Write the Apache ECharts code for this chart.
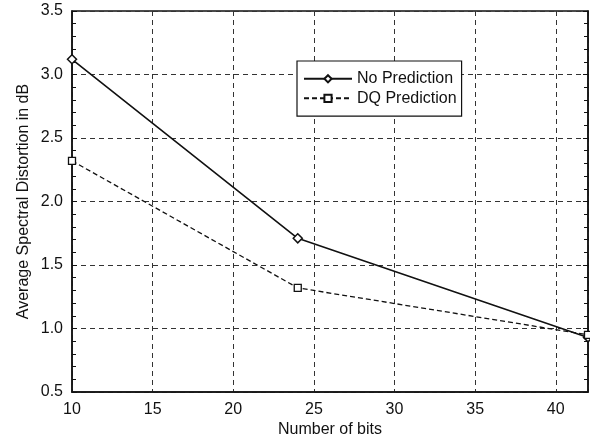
<!DOCTYPE html>
<html>
<head>
	<title>Spectral distortion</title>
	<script type="text/javascript" src="https://cdn.jsdelivr.net/npm/echarts@6/dist/echarts.min.js"></script>
	<style type="text/css">
		html, body{ margin: 0; padding: 0; background: #fff; }
		#chart{ width: 590px; height: 438px; }
	</style>
</head>
<body>
	<div id="chart"></div>
<script type="text/javascript">
	// bits on x, distortion (dB) on y
	var bits = [10, 24, 42];
	var noPrediction = [3.12, 1.71, 0.93];
	var dqPrediction = [2.32, 1.32, 0.95];
	var xTicks = [10, 15, 20, 25, 30, 35, 40];

	var font = 'Liberation Sans, Arial, Helvetica, sans-serif';
	var myChart = echarts.init(document.getElementById('chart'));

	function pairs(xs, ys){
		var out = [];
		for (var i = 0; i < xs.length; i++) out.push([xs[i], ys[i]]);
		return out;
	}

	var gridDash = { show: true, lineStyle: { color: '#333', type: [5, 4], width: 1 } };

	var option = {
		backgroundColor: '#fff',
		animation: false,
		grid: {
			left: 72, right: 2, top: 11, bottom: 46,
			containLabel: false, outerBoundsMode: 'none',
			show: true, borderColor: '#111', borderWidth: 1.5
		},
		legend: {
			orient: 'vertical',
			left: 297, top: 61,
			padding: [4, 5, 4, 6],
			itemGap: -8,
			itemWidth: 48, itemHeight: 9,
			borderColor: '#111', borderWidth: 1.2,
			backgroundColor: '#fff',
			textStyle: { fontFamily: font, fontSize: 16, lineHeight: 17, color: '#111' },
			data: ['No Prediction', 'DQ Prediction']
		},
		xAxis: {
			type: 'value',
			min: 10, max: 42, interval: 5,
			name: 'Number of bits',
			nameLocation: 'middle', nameGap: 24,
			nameMoveOverlap: false,
			nameTextStyle: { fontFamily: font, fontSize: 16, color: '#111' },
			axisLine: { lineStyle: { color: '#111', width: 1.5 } },
			axisTick: { show: false },
			axisLabel: {
				fontFamily: font, fontSize: 16, color: '#111', margin: 4,
				showMaxLabel: false,
				formatter: function(v){ return xTicks.indexOf(v) >= 0 ? String(v) : ''; }
			},
			splitLine: gridDash
		},
		yAxis: [{
			type: 'value',
			min: 0.5, max: 3.5, interval: 0.5,
			name: 'Average Spectral Distortion in dB',
			nameLocation: 'middle', nameGap: 35,
			nameMoveOverlap: false,
			nameTextStyle: { fontFamily: font, fontSize: 16, color: '#111' },
			axisLine: { show: true, lineStyle: { color: '#111', width: 1.5 } },
			axisTick: { show: true, inside: true, length: 5, lineStyle: { color: '#111' } },
			minorTick: { show: true, splitNumber: 5, length: 4, lineStyle: { color: '#111' } },
			axisLabel: {
				fontFamily: font, fontSize: 16, color: '#111', margin: 9,
				formatter: function(v){ return v.toFixed(1); }
			},
			splitLine: gridDash
		}, {
			type: 'value',
			position: 'right',
			min: 0.5, max: 3.5, interval: 0.5,
			axisLine: { show: true, lineStyle: { color: '#111', width: 1.5 } },
			axisTick: { show: true, inside: true, length: 5, lineStyle: { color: '#111' } },
			minorTick: { show: true, splitNumber: 5, length: 4, lineStyle: { color: '#111' } },
			axisLabel: { show: false },
			splitLine: { show: false }
		}],
		series: [{
			name: 'No Prediction',
			type: 'line',
			data: pairs(bits, noPrediction),
			symbol: 'diamond', symbolSize: 9,
			color: '#111',
			lineStyle: { color: '#111', width: 1.6, type: 'solid' },
			itemStyle: { color: '#fff', borderColor: '#111', borderWidth: 1.5 }
		}, {
			name: 'DQ Prediction',
			type: 'line',
			data: pairs(bits, dqPrediction),
			symbol: 'rect', symbolSize: 7,
			color: '#111',
			lineStyle: { color: '#111', width: 1.3, type: [5, 3] },
			itemStyle: { color: '#fff', borderColor: '#111', borderWidth: 1.3 }
		}]
	};
	myChart.setOption(option);
</script>
</body>
</html>
